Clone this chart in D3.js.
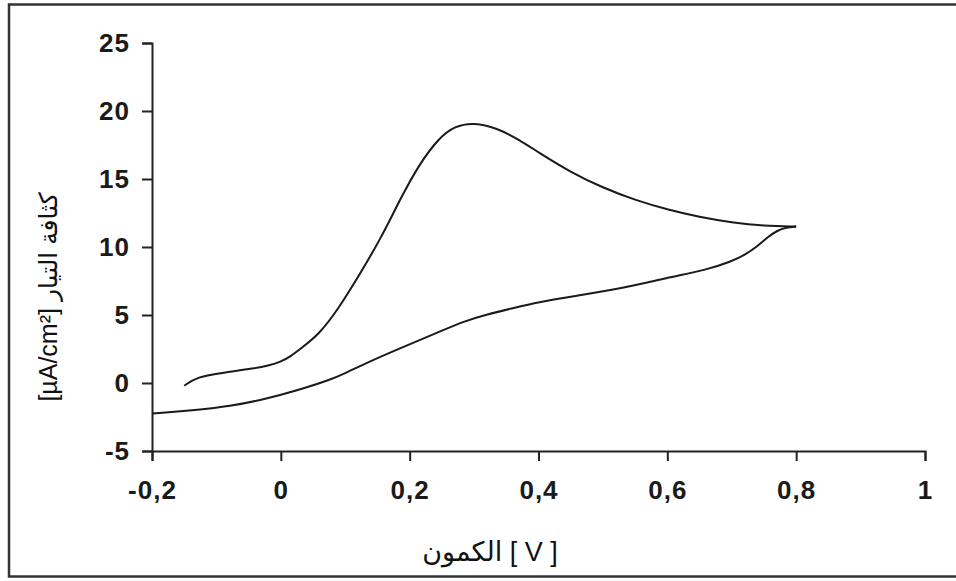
<!DOCTYPE html>
<html>
<head>
<meta charset="utf-8">
<script src="https://cdn.jsdelivr.net/npm/d3@7"></script>
<style>
  html, body { margin: 0; padding: 0; background: #fff; }
  svg { display: block; }
</style>
</head>
<body>
<svg id="chart" width="956" height="581"></svg>
<script>
// Cyclic voltammogram: anodic (forward) and cathodic (reverse) branches
const forwardPotential = [-0.15, -0.13, -0.09, -0.04, -0.02, 0, 0.015, 0.03, 0.06, 0.09, 0.12, 0.155, 0.185, 0.215, 0.245, 0.27, 0.30, 0.335, 0.37, 0.40, 0.45, 0.50, 0.55, 0.60, 0.65, 0.70, 0.75, 0.80];
const forwardCurrent   = [-0.2, 0.45, 0.75, 1.08, 1.28, 1.55, 1.95, 2.5, 3.6, 5.5, 7.8, 10.6, 13.5, 16.1, 18.0, 18.9, 19.15, 18.75, 17.9, 16.95, 15.5, 14.35, 13.45, 12.75, 12.2, 11.8, 11.55, 11.5];

const reversePotential = [0.80, 0.785, 0.77, 0.755, 0.74, 0.72, 0.70, 0.66, 0.60, 0.53, 0.45, 0.40, 0.36, 0.32, 0.285, 0.25, 0.205, 0.145, 0.10, 0.075, 0.025, -0.025, -0.08, -0.13, -0.2];
const reverseCurrent   = [11.5, 11.45, 11.2, 10.7, 10.05, 9.4, 8.95, 8.3, 7.75, 6.95, 6.35, 5.95, 5.5, 5.05, 4.55, 3.85, 2.95, 1.75, 0.72, 0.2, -0.55, -1.2, -1.72, -1.98, -2.25];

const xTicks = [-0.2, 0, 0.2, 0.4, 0.6, 0.8, 1];
const yTicks = [-5, 0, 5, 10, 15, 20, 25];

const xTitle = "الكمون [ V ]";
const yTitle = "[µA/cm²] كثافة التيار";

const svg = d3.select("#chart");

// outer frame
svg.append("rect")
  .attr("x", 9).attr("y", 4.5)
  .attr("width", 960).attr("height", 572)
  .attr("fill", "none")
  .attr("stroke", "#333")
  .attr("stroke-width", 2.5);

const x = d3.scaleLinear().domain([-0.2, 1]).range([152, 925]);
const y = d3.scaleLinear().domain([-5, 25]).range([451, 43]);

// decimal comma and plain hyphen for negatives
const fmt = d => String(d).replace(".", ",");
const font = "'Liberation Sans', Arial, 'DejaVu Sans', sans-serif";

const xAxis = svg.append("g")
  .attr("transform", `translate(0,${y(-5)})`)
  .call(d3.axisBottom(x).tickValues(xTicks).tickFormat(fmt).tickSize(10).tickPadding(20));

const yAxis = svg.append("g")
  .attr("transform", `translate(${x(-0.2)},0)`)
  .call(d3.axisLeft(y).tickValues(yTicks).tickFormat(fmt).tickSize(10).tickPadding(12));

[xAxis, yAxis].forEach(g => {
  g.select(".domain").attr("stroke", "#222").attr("stroke-width", 2);
  g.selectAll(".tick line").attr("stroke", "#222").attr("stroke-width", 2);
  g.selectAll(".tick text")
    .attr("fill", "#1a1a1a")
    .style("font-family", font)
    .style("font-weight", "bold")
    .style("font-size", "26px")
    .style("letter-spacing", "1px");
});

const line = d3.line()
  .x(d => x(d[0]))
  .y(d => y(d[1]))
  .curve(d3.curveBasis);

const forward = forwardPotential.map((v, i) => [v, forwardCurrent[i]]);
const reverse = reversePotential.map((v, i) => [v, reverseCurrent[i]]);

[forward, reverse].forEach(series => {
  svg.append("path")
    .datum(series)
    .attr("fill", "none")
    .attr("stroke", "#1a1a1a")
    .attr("stroke-width", 2)
    .attr("stroke-linejoin", "round")
    .attr("d", line);
});

svg.append("text")
  .attr("x", 490).attr("y", 561)
  .attr("text-anchor", "middle")
  .style("font-family", font)
  .style("font-size", "27px")
  .attr("fill", "#111")
  .text(xTitle);

svg.append("text")
  .attr("transform", "translate(57,297) rotate(-90)")
  .attr("text-anchor", "middle")
  .style("font-family", font)
  .style("font-size", "25px")
  .attr("fill", "#111")
  .text(yTitle);
</script>
</body>
</html>
